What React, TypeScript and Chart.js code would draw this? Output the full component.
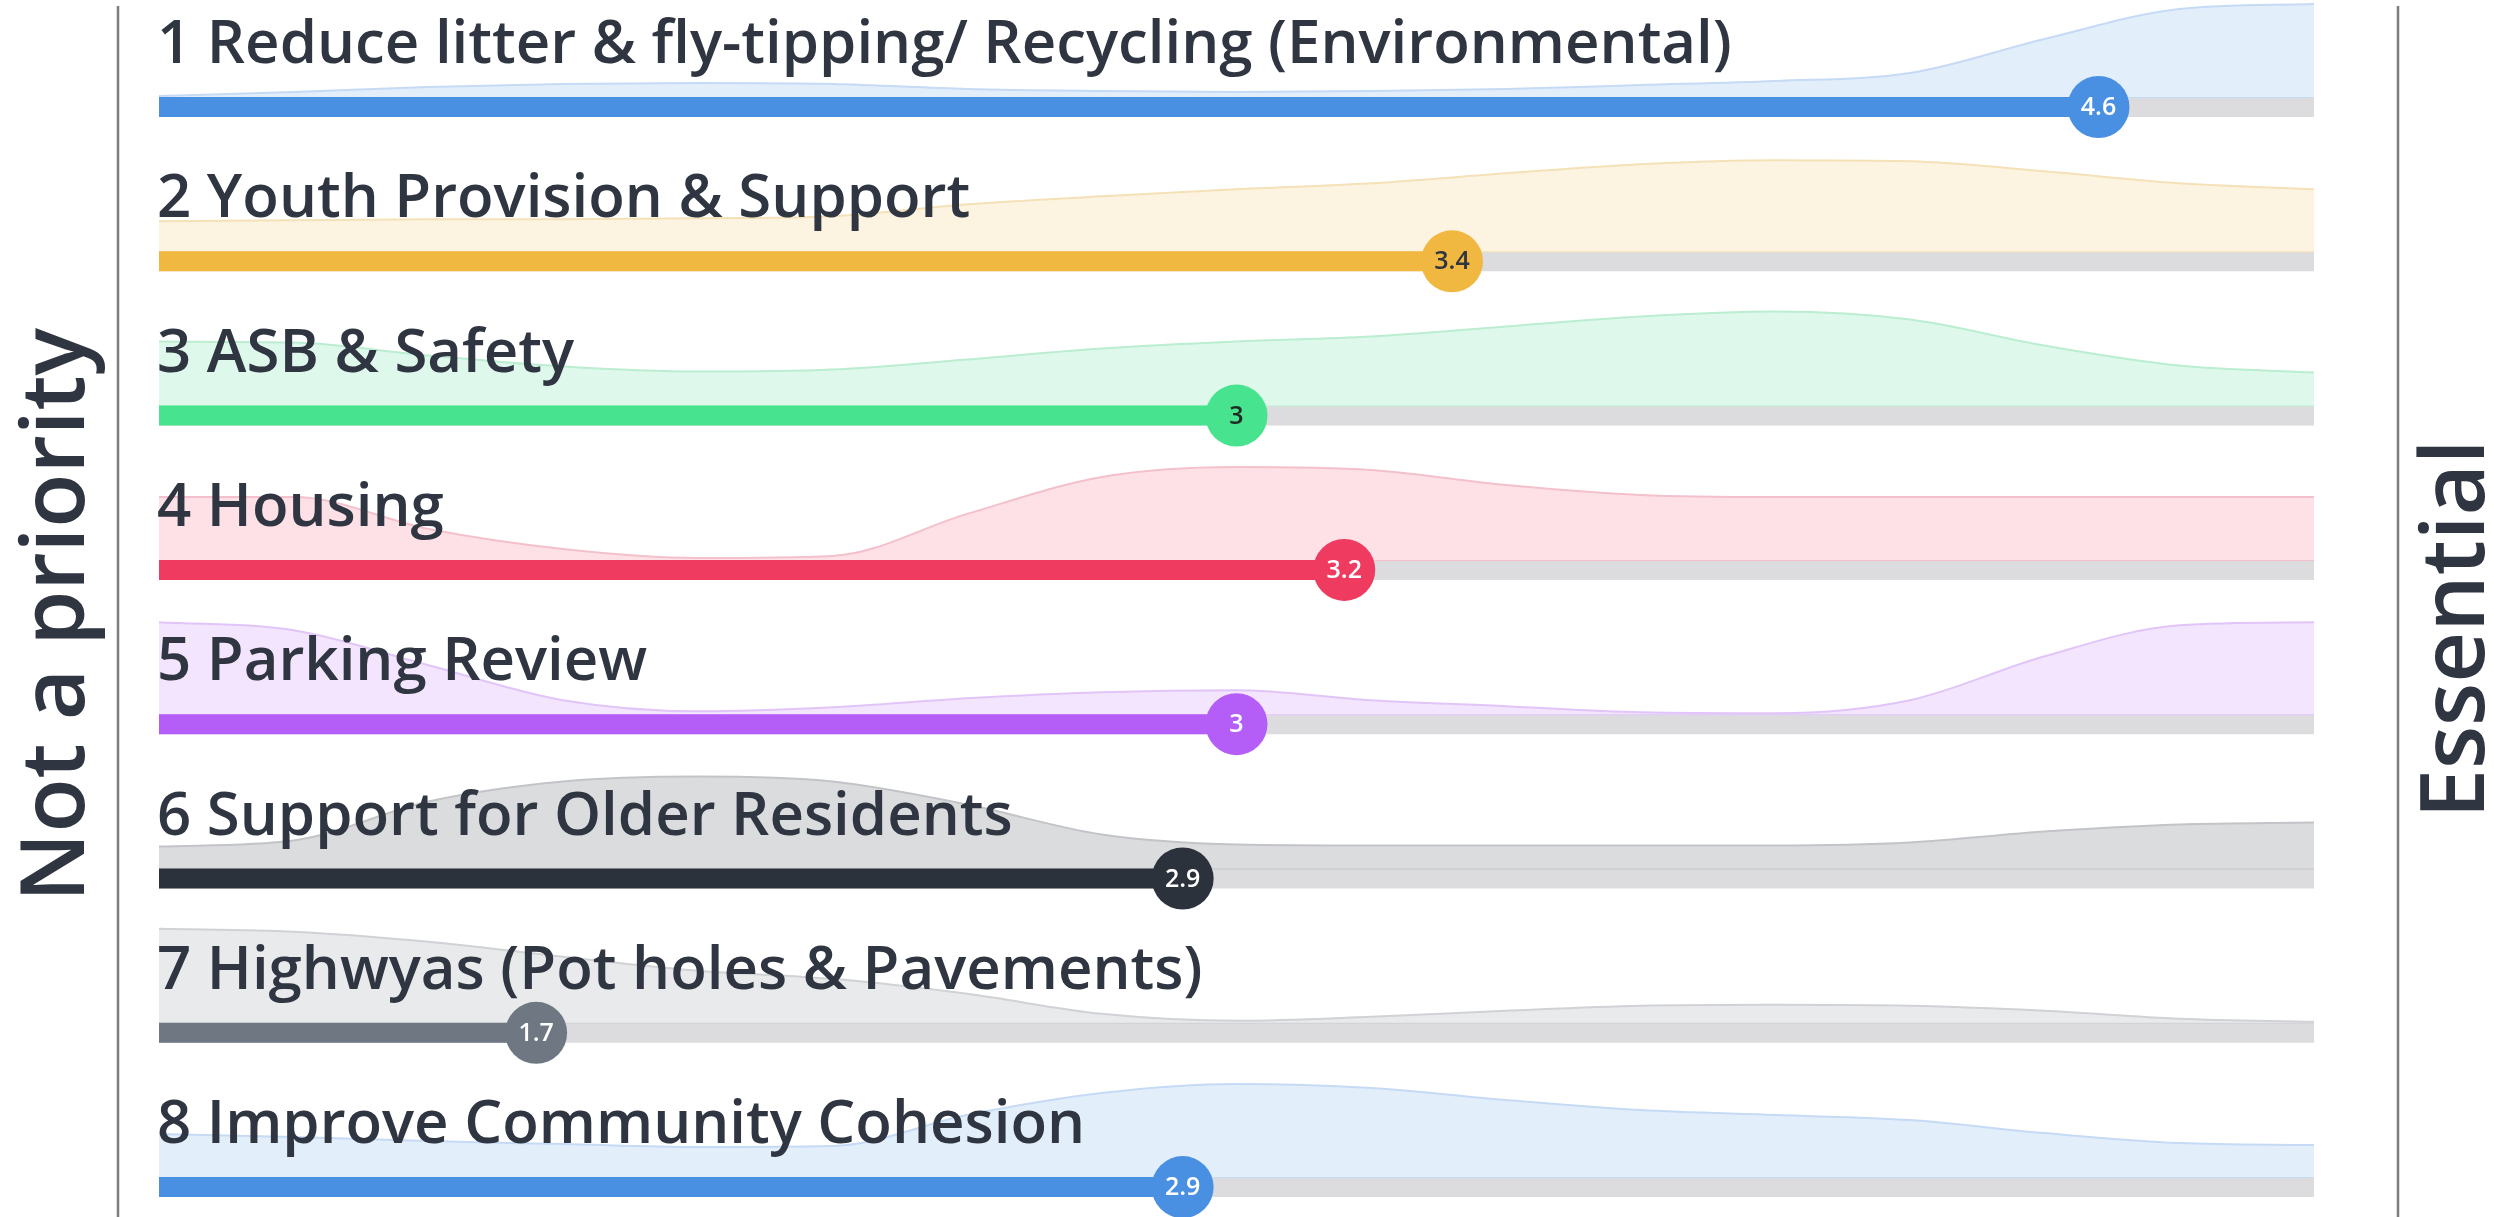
import React, { useEffect, useRef } from "react";
import Chart from "chart.js/auto";

// ---------- data ----------
const categories = [
  "1 Reduce litter & fly-tipping/ Recycling (Environmental)",
  "2 Youth Provision & Support",
  "3 ASB & Safety",
  "4 Housing",
  "5 Parking Review",
  "6 Support for Older Residents",
  "7 Highwyas (Pot holes & Pavements)",
  "8 Improve Community Cohesion",
];
const meanScores = [4.6, 3.4, 3, 3.2, 3, 2.9, 1.7, 2.9];
const scaleMin = 1;
const scaleMax = 5;
const leftLabel = "Not a priority";
const rightLabel = "Essential";

// response distribution (relative density) sampled along the 1..5 scale
const densityPoints = [1, 1.25, 1.5, 1.75, 2, 2.25, 2.5, 2.75, 3, 3.25, 3.5, 3.75, 4, 4.25, 4.5, 4.75, 5];
const density1 = [1, 5, 10, 13, 14, 13, 8, 6, 5, 6, 8, 12, 16, 24, 58, 88, 93];
const density2 = [30, 31, 32, 32, 33, 35, 47, 55, 62, 68, 78, 87, 91, 90, 80, 68, 62];
const density3 = [64, 63, 50, 39, 34, 36, 46, 57, 64, 69, 79, 89, 94, 86, 60, 40, 33];
const density4 = [63, 63, 31, 11, 2, 4, 46, 83, 93, 90, 75, 65, 63, 63, 63, 63, 63];
const density5 = [92, 84, 49, 14, 3, 7, 16, 22, 24, 14, 8, 2, 1, 14, 58, 89, 92];
const density6 = [22, 28, 67, 87, 92, 87, 64, 34, 24, 23, 23, 23, 23, 26, 37, 44, 46];
const density7 = [94, 91, 81, 66, 52, 44, 29, 9, 2, 6, 12, 17, 18, 17, 12, 4, 1];
const density8 = [43, 40, 36, 33, 30, 31, 62, 84, 93, 89, 77, 67, 62, 57, 44, 34, 32];
const densities = [density1, density2, density3, density4, density5, density6, density7, density8];

// ---------- styles ----------
const barColors = ["#4a90e2", "#f0b840", "#47e38e", "#ef3b5f", "#b45ef7", "#2c323b", "#6e7782", "#4a90e2"];
const areaColors = ["#e3eefb", "#fdf3e1", "#dff8ec", "#fde1e6", "#f3e5fd", "#dbdcde", "#e9eaeb", "#e3eefb"];
const areaBorders = ["#c6daf5", "#f4e1b8", "#bbedd1", "#f4c0cb", "#e1c5f8", "#c2c4c7", "#d0d2d5", "#c6daf5"];
const valueTextColors = ["#ffffff", "#2e3440", "#1f2a24", "#ffffff", "#ffffff", "#ffffff", "#ffffff", "#ffffff"];
const trackColor = "#dcdcde";
const textColor = "#2f3541";
const FONT = "'Open Sans', 'Noto Sans', sans-serif";

const W = 2494;
const H = 1217;
const ROW_PX = 154.3; // one y unit in pixels
const FIRST_ROW_PX = 107;
const BAR_PX = 20;
const PLOT_LEFT = 159;
const PLOT_RIGHT = 2314;
const TITLE_WIDTH = 1575; // width of the first row title
const SIDE_WIDTH = 574; // length of the left side label

export default function App() {
  const ref = useRef<HTMLCanvasElement | null>(null);

  useEffect(() => {
    document.body.style.margin = "0";
    document.body.style.overflow = "hidden";
    const canvas = ref.current;
    if (!canvas) return;

    const halfBar = BAR_PX / 2 / ROW_PX;
    const datasets: any[] = [];

    // circles (top)
    datasets.push({
      label: "mean",
      data: meanScores.map((v, i) => ({ x: v, y: i })),
      showLine: false,
      pointRadius: 31,
      pointHoverRadius: 31,
      pointBorderWidth: 0,
      pointBackgroundColor: barColors,
      pointBorderColor: barColors,
      order: 0,
      clip: false,
    });
    const circleIndex = 0;

    categories.forEach((_, i) => {
      datasets.push({
        data: [
          { x: scaleMin, y: i },
          { x: meanScores[i], y: i },
        ],
        borderColor: barColors[i],
        borderWidth: BAR_PX,
        borderCapStyle: "butt",
        pointRadius: 0,
        fill: false,
        order: 1,
        clip: false,
      });
      datasets.push({
        data: densityPoints.map((x, j) => ({ x, y: i - halfBar - densities[i][j] / ROW_PX })),
        borderColor: areaBorders[i],
        borderWidth: 2,
        backgroundColor: areaColors[i],
        fill: { value: i - halfBar },
        cubicInterpolationMode: "monotone",
        pointRadius: 0,
        order: 2,
        clip: false,
      });
      datasets.push({
        data: [
          { x: scaleMin, y: i - halfBar },
          { x: scaleMax, y: i - halfBar },
        ],
        borderColor: areaBorders[i],
        borderWidth: 2,
        pointRadius: 0,
        fill: false,
        order: 2,
        clip: false,
      });
      datasets.push({
        data: [
          { x: scaleMin, y: i },
          { x: scaleMax, y: i },
        ],
        borderColor: trackColor,
        borderWidth: BAR_PX,
        borderCapStyle: "butt",
        pointRadius: 0,
        fill: false,
        order: 3,
        clip: false,
      });
    });

    const overlay = {
      id: "overlay",
      afterDatasetsDraw(chart: any) {
        const { ctx, scales } = chart;
        const xs = scales.x;
        const ys = scales.y;
        ctx.save();
        // row titles, sized so that the first title spans its width
        ctx.font = `600 100px ${FONT}`;
        const titleSize = (100 * TITLE_WIDTH) / ctx.measureText(categories[0]).width;
        ctx.font = `600 ${titleSize}px ${FONT}`;
        ctx.fillStyle = textColor;
        ctx.textAlign = "left";
        ctx.textBaseline = "alphabetic";
        categories.forEach((c, i) => {
          ctx.fillText(c, xs.getPixelForValue(scaleMin) - 2, ys.getPixelForValue(i) - 44);
        });
        // values in circles
        const meta = chart.getDatasetMeta(circleIndex);
        ctx.font = `600 25px ${FONT}`;
        ctx.textAlign = "center";
        ctx.textBaseline = "middle";
        meta.data.forEach((pt: any, i: number) => {
          ctx.fillStyle = valueTextColors[i];
          ctx.fillText(String(meanScores[i]), pt.x, pt.y + 1);
        });
        // side lines
        ctx.strokeStyle = "#7d7d7d";
        ctx.lineWidth = 2.5;
        ctx.beginPath();
        ctx.moveTo(118, 6);
        ctx.lineTo(118, H);
        ctx.moveTo(2398, 6);
        ctx.lineTo(2398, H);
        ctx.stroke();
        // side labels
        ctx.font = `600 100px ${FONT}`;
        const sideSize = (100 * SIDE_WIDTH) / ctx.measureText(leftLabel).width;
        ctx.fillStyle = textColor;
        ctx.font = `600 ${sideSize}px ${FONT}`;
        ctx.textAlign = "center";
        ctx.textBaseline = "alphabetic";
        ctx.save();
        ctx.translate(84, 615);
        ctx.rotate(-Math.PI / 2);
        ctx.fillText(leftLabel, 0, 0);
        ctx.restore();
        ctx.save();
        ctx.translate(2484, 629);
        ctx.rotate(-Math.PI / 2);
        ctx.fillText(rightLabel, 0, 0);
        ctx.restore();
        ctx.restore();
      },
    };

    const chart = new Chart(canvas, {
      type: "line",
      data: { datasets },
      options: {
        responsive: false,
        animation: false,
        events: [],
        devicePixelRatio: 1,
        layout: { autoPadding: false, padding: { left: PLOT_LEFT, right: W - PLOT_RIGHT, top: 0, bottom: 0 } },
        plugins: { legend: { display: false }, tooltip: { enabled: false } },
        scales: {
          x: { type: "linear", min: scaleMin, max: scaleMax, display: false },
          y: {
            type: "linear",
            reverse: true,
            min: -FIRST_ROW_PX / ROW_PX,
            max: (H - FIRST_ROW_PX) / ROW_PX,
            display: false,
          },
        },
      },
      plugins: [overlay],
    });
    return () => chart.destroy();
  }, []);

  return (
    <div style={{ width: W, height: H, background: "#ffffff" }}>
      <canvas ref={ref} width={W} height={H} style={{ display: "block", width: W, height: H }} />
    </div>
  );
}
